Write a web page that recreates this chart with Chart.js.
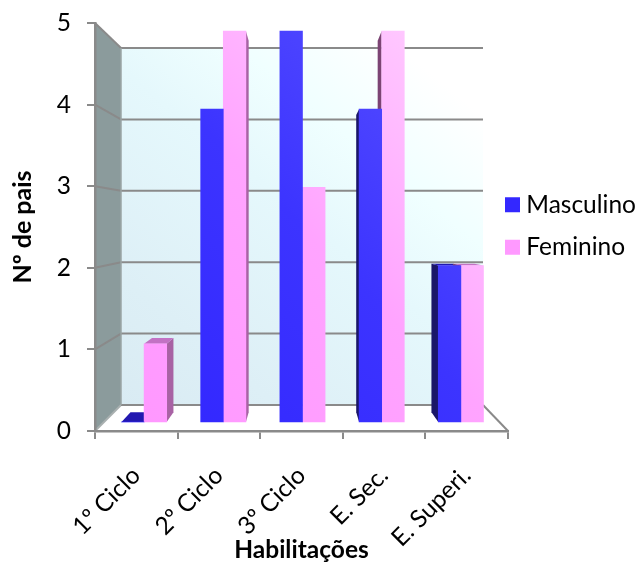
<!DOCTYPE html>
<html>
<head>
<meta charset="utf-8">
<title>Habilitações</title>
<script src="https://cdn.jsdelivr.net/npm/chart.js@4"></script>
<style>
  html, body { margin: 0; padding: 0; background: #fff; }
  canvas { display: block; }
</style>
</head>
<body>
<canvas id="chart" width="639" height="562"></canvas>
<script>
// Fathers' schooling by sex: clustered 3D-look column chart.

const CATEGORIES = ["1º Ciclo", "2º Ciclo", "3º Ciclo", "E. Sec.", "E. Superi."];
const MASCULINO = [0, 4, 5, 4, 2];
const FEMININO = [1, 5, 3, 5, 2];
const Y_TICKS = [0, 1, 2, 3, 4, 5];

const FONT = "Lato, Carlito, Calibri, sans-serif";
const AXIS_GREY = "#8a8a8a";
const TEXT_COLOR = "#000";

// perspective of the box: everything recedes towards this point
const VANISH_X = 301.5;
const VANISH_Y = 226.5;
const BAR_DEPTH = 0.05;
const WALL_INSET_LEFT = 26;
const WALL_INSET_RIGHT = 25;

function recede(x, y) {
  return [x + (VANISH_X - x) * BAR_DEPTH, y + (VANISH_Y - y) * BAR_DEPTH];
}

function fillPoly(ctx, points, color) {
  ctx.fillStyle = color;
  ctx.beginPath();
  points.forEach(function (p, i) {
    if (i === 0) ctx.moveTo(p[0], p[1]);
    else ctx.lineTo(p[0], p[1]);
  });
  ctx.closePath();
  ctx.fill();
}

function strokeLine(ctx, x1, y1, x2, y2, color, width) {
  ctx.strokeStyle = color;
  ctx.lineWidth = width;
  ctx.beginPath();
  ctx.moveTo(x1, y1);
  ctx.lineTo(x2, y2);
  ctx.stroke();
}

// lower left to upper right sheen on the columns
function sheen(chart, stops) {
  const area = chart.chartArea;
  if (!area) return stops[0][1];
  const g = chart.ctx.createLinearGradient(area.left, area.bottom, area.right, area.top);
  stops.forEach(function (s) { g.addColorStop(s[0], s[1]); });
  return g;
}

// back wall light falls off more steeply than the columns' sheen
function wallFill(chart) {
  const area = chart.chartArea;
  const g = chart.ctx.createLinearGradient(area.left + 55, area.bottom, area.right - 38, area.top + 17);
  g.addColorStop(0, "#d9ebf3");
  g.addColorStop(0.2, "#ddeff6");
  g.addColorStop(0.52, "#e5f8fc");
  g.addColorStop(0.7, "#f0ffff");
  g.addColorStop(0.9, "#ffffff");
  return g;
}

const boxPlugin = {
  id: "box3d",
  afterLayout: function (chart) {
    // legend hangs a little over the plot's right edge and sits level with the box
    chart.legend.left = 493;
    chart.legend.top = 174.5;
  },
  beforeDraw: function (chart) {
    const ctx = chart.ctx;
    const area = chart.chartArea;
    const front = chart.scales.y;
    const wall = chart.scales.yWall;
    const backL = area.left + WALL_INSET_LEFT;
    const backR = area.right - WALL_INSET_RIGHT;
    const backTop = wall.getPixelForValue(5);
    const backBottom = wall.getPixelForValue(0);

    ctx.save();
    // back wall
    fillPoly(ctx, [[backL, backTop], [backR, backTop], [backR, backBottom], [backL, backBottom]], wallFill(chart));
    // side wall
    fillPoly(ctx, [[area.left, area.top], [backL, backTop], [backL, backBottom], [area.left, area.bottom]], "#8b9b9c");

    // grid lines run along the back wall and down the side wall
    Y_TICKS.forEach(function (v) {
      const yBack = wall.getPixelForValue(v);
      const yFront = front.getPixelForValue(v);
      strokeLine(ctx, area.left, yFront, backL, yBack, v === 0 ? "#a9b0b0" : AXIS_GREY, 2);
      strokeLine(ctx, backL, yBack, backR, yBack, AXIS_GREY, 2);
    });
    strokeLine(ctx, backL, backTop, backL, backBottom, "#9aa5a5", 1.5);
    // floor edge on the right
    strokeLine(ctx, backR, backBottom, area.right, area.bottom, AXIS_GREY, 2);
    ctx.restore();
  },
  beforeDatasetsDraw: function (chart) {
    const ctx = chart.ctx;
    const faces = [
      { top: "#2218b0", left: "#1a1668", right: "#1a1668" },
      { top: "#c272c4", left: "#7c4474", right: "#a862a4" }
    ];
    ctx.save();
    chart.data.datasets.forEach(function (ds, d) {
      chart.getDatasetMeta(d).data.forEach(function (bar) {
        const left = bar.x - bar.width / 2;
        const right = bar.x + bar.width / 2;
        const top = bar.y;
        const base = bar.base;
        const c = faces[d];
        if (right < VANISH_X) {
          fillPoly(ctx, [[right, top], [right, base], recede(right, base), recede(right, top)], c.right);
        }
        if (left > VANISH_X) {
          fillPoly(ctx, [[left, top], [left, base], recede(left, base), recede(left, top)], c.left);
        }
        if (top > VANISH_Y) {
          fillPoly(ctx, [[left, top], [right, top], recede(right, top), recede(left, top)], c.top);
        }
      });
    });
    ctx.restore();
  }
};

function depthSeries(values) {
  return values.map(function (v, i) { return { x: i, y: v }; });
}

new Chart(document.getElementById("chart"), {
  type: "bar",
  data: {
    labels: CATEGORIES,
    datasets: [
      {
        label: "Masculino",
        data: depthSeries(MASCULINO),
        xAxisID: "xBars",
        yAxisID: "yBars",
        barThickness: 22.6,
        backgroundColor: function (c) {
          return sheen(c.chart, [[0, "#3024ff"], [0.5, "#3c34ff"], [1, "#5c54ff"]]);
        }
      },
      {
        label: "Feminino",
        data: depthSeries(FEMININO),
        xAxisID: "xBars",
        yAxisID: "yBars",
        barThickness: 22.6,
        backgroundColor: function (c) {
          return sheen(c.chart, [[0, "#ff96ff"], [0.5, "#ffa4ff"], [1, "#ffd4ff"]]);
        }
      }
    ]
  },
  plugins: [boxPlugin],
  options: {
    responsive: false,
    animation: false,
    layout: { padding: { top: 23, right: 0, bottom: 0, left: 0 } },
    plugins: {
      tooltip: { enabled: false },
      legend: {
        position: "right",
        align: "start",
        maxWidth: 131,
        labels: {
          color: TEXT_COLOR,
          padding: 18,
          // a small box with a wide stroke gives the swatch and keeps the text close to it
          boxWidth: 3,
          boxHeight: 3,
          font: { family: FONT, size: 24.5 },
          generateLabels: function (chart) {
            return chart.data.datasets.map(function (ds, i) {
              const color = i === 0 ? "#3328ff" : "#ff99ff";
              return { text: ds.label, fillStyle: color, strokeStyle: color, lineWidth: 12, datasetIndex: i };
            });
          }
        }
      }
    },
    scales: {
      x: {
        type: "category",
        offset: true,
        afterFit: function (scale) { scale.height = 131; },
        border: { color: AXIS_GREY, width: 2.5, z: 1 },
        grid: { drawOnChartArea: false, offset: true, color: AXIS_GREY, lineWidth: 2, tickLength: 8 },
        ticks: { color: TEXT_COLOR, font: { family: FONT, size: 24.5 }, maxRotation: 45, minRotation: 45, padding: 22, autoSkip: false },
        title: { display: true, text: "Habilitações", color: TEXT_COLOR, font: { family: FONT, size: 24.5, weight: "bold", lineHeight: 1 }, padding: { top: 0, bottom: 0 } }
      },
      y: {
        min: 0,
        max: 5,
        afterFit: function (scale) {
          scale.width = 95;
          scale.paddingTop = 0;
          scale.paddingBottom = 0;
        },
        border: { color: AXIS_GREY, width: 2.5, z: 1 },
        grid: { drawOnChartArea: false, color: AXIS_GREY, lineWidth: 2, tickLength: 8 },
        ticks: { stepSize: 1, color: TEXT_COLOR, font: { family: FONT, size: 24.5 }, padding: 16 },
        title: { display: true, text: "Nº de pais", color: TEXT_COLOR, font: { family: FONT, size: 25, weight: "bold", lineHeight: 1 }, padding: { top: 10, bottom: 0 } }
      },
      // columns stand on a plane set back from the front axis
      xBars: {
        type: "linear",
        display: false,
        offset: false,
        min: -0.62,
        max: 4.595,
        ticks: { stepSize: 1, includeBounds: false }
      },
      yBars: {
        display: false,
        min: -0.115,
        max: 5.102,
        ticks: { stepSize: 1, includeBounds: false }
      },
      yWall: {
        display: false,
        min: -0.364,
        max: 5.35,
        ticks: { stepSize: 1, includeBounds: false }
      }
    }
  }
});
</script>
</body>
</html>
